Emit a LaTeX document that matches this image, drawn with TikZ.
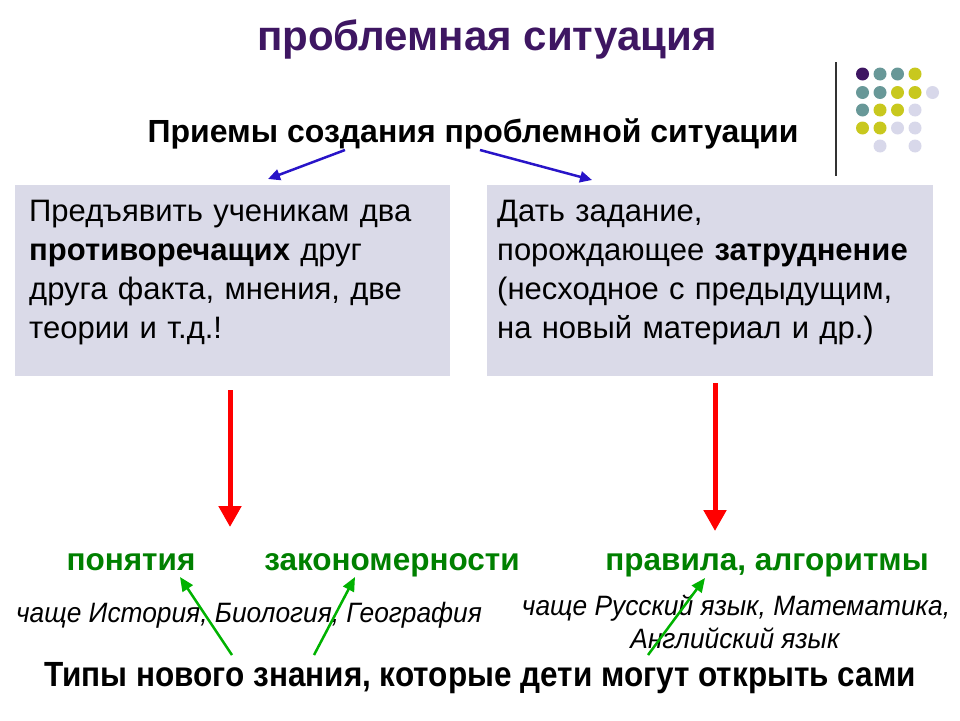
\documentclass[tikz,border=0pt]{standalone}
\usepackage{fontspec}
\setmainfont{Liberation Sans}
\definecolor{titlepurple}{RGB}{62,22,98}
\definecolor{boxfill}{RGB}{218,218,232}
\definecolor{arrowblue}{RGB}{40,20,200}
\definecolor{darkgreen}{RGB}{0,128,0}
\definecolor{dotpurple}{RGB}{62,22,98}
\definecolor{dotteal}{RGB}{104,152,152}
\definecolor{dotyellow}{RGB}{200,200,30}
\definecolor{dotlav}{RGB}{216,216,234}
\usetikzlibrary{arrows.meta}
\begin{document}
\begin{tikzpicture}[x=1pt,y=-1pt]
\tikzset{
  fact/.style={fill=boxfill,draw=none,minimum width=435,minimum height=191,anchor=north west},
  facttext/.style={anchor=north west,text width=430,align=left,inner sep=0pt,font=\fontsize{31}{39}\selectfont},
  kind/.style={anchor=base,text=darkgreen,font=\bfseries\fontsize{31.5}{36}\selectfont},
  subj/.style={anchor=base,font=\itshape\fontsize{28}{33}\selectfont},
  bluearrow/.style={arrowblue,line width=2.5,-{Triangle[length=12,width=11]}},
  redarrow/.style={red,line width=5,-{Triangle[length=21,width=22]}},
  greenarrow/.style={green!70!black,line width=2.5,-{Triangle[length=14,width=12]}}
}
\useasboundingbox (0,0) rectangle (960,720);
% titles
\node[anchor=base,text=titlepurple,font=\bfseries\fontsize{42}{48}\selectfont] (title) at (487,50) {проблемная ситуация};
\node[anchor=base,font=\bfseries\fontsize{32}{38}\selectfont] (ways) at (473,142) {Приемы создания проблемной ситуации};
% decoration
\draw[gray!40!black,line width=1.5] (836,62)--(836,176);
\foreach \c [count=\i] in {dotpurple,dotteal,dotteal,dotyellow}{\fill[\c] (845+17.5*\i,74) circle (6.5);}
\foreach \c [count=\i] in {dotteal,dotteal,dotyellow,dotyellow,dotlav}{\fill[\c] (845+17.5*\i,92.5) circle (6.5);}
\foreach \c [count=\i] in {dotteal,dotyellow,dotyellow,dotlav}{\fill[\c] (845+17.5*\i,110) circle (6.5);}
\foreach \c [count=\i] in {dotyellow,dotyellow,dotlav,dotlav}{\fill[\c] (845+17.5*\i,128) circle (6.5);}
\foreach \i in {2,4}{\fill[dotlav] (845+17.5*\i,146) circle (6.5);}
% boxes
\node[fact] (left) at (15,185) {};
\node[fact,minimum width=446] (right) at (487,185) {};
\node[facttext] (lefttext) at (29,200) {Предъявить ученикам два\\ \textbf{противоречащих} друг\\ друга факта, мнения, две\\ теории и т.д.!};
\node[facttext] (righttext) at (497,200) {Дать задание,\\ порождающее \textbf{затруднение}\\ (несходное с предыдущим,\\ на новый материал и др.)};
% blue arrows
\coordinate (b1s) at (345,150); \coordinate (b1e) at (268,179);
\coordinate (b2s) at (480,150); \coordinate (b2e) at (592,180);
\draw[bluearrow] (b1s)--(b1e);
\draw[bluearrow] (b2s)--(b2e);
% kinds of knowledge
\node[kind] (concepts) at (131,570) {понятия};
\node[kind] (laws) at (392,570) {закономерности};
\node[kind] (rules) at (767,570) {правила, алгоритмы};
% red arrows
\coordinate (r1s) at (230,390); \coordinate (r1e) at (230,527);
\coordinate (r2s) at (715,383); \coordinate (r2e) at (715,531);
\draw[redarrow] (r1s)--(r1e);
\draw[redarrow] (r2s)--(r2e);
% subjects
\node[subj] (subjleft) at (249,622) {\scalebox{0.94}[1]{чаще История, Биология, География}};
\node[subj] (subjright1) at (736,615) {\scalebox{0.94}[1]{чаще Русский язык, Математика,}};
\node[subj] (subjright2) at (735,648) {\scalebox{0.94}[1]{Английский язык}};
% bottom line
\node[anchor=base,font=\bfseries\fontsize{35}{40}\selectfont] (types) at (480,686) {\scalebox{0.9}[1]{Типы нового знания, которые дети могут открыть сами}};
% green arrows
\coordinate (g1s) at (232,655); \coordinate (g1e) at (180,577);
\coordinate (g2s) at (314,655); \coordinate (g2e) at (355,577);
\coordinate (g3s) at (648,655); \coordinate (g3e) at (705,578);
\draw[greenarrow] (g1s)--(g1e);
\draw[greenarrow] (g2s)--(g2e);
\draw[greenarrow] (g3s)--(g3e);
\end{tikzpicture}
\end{document}
